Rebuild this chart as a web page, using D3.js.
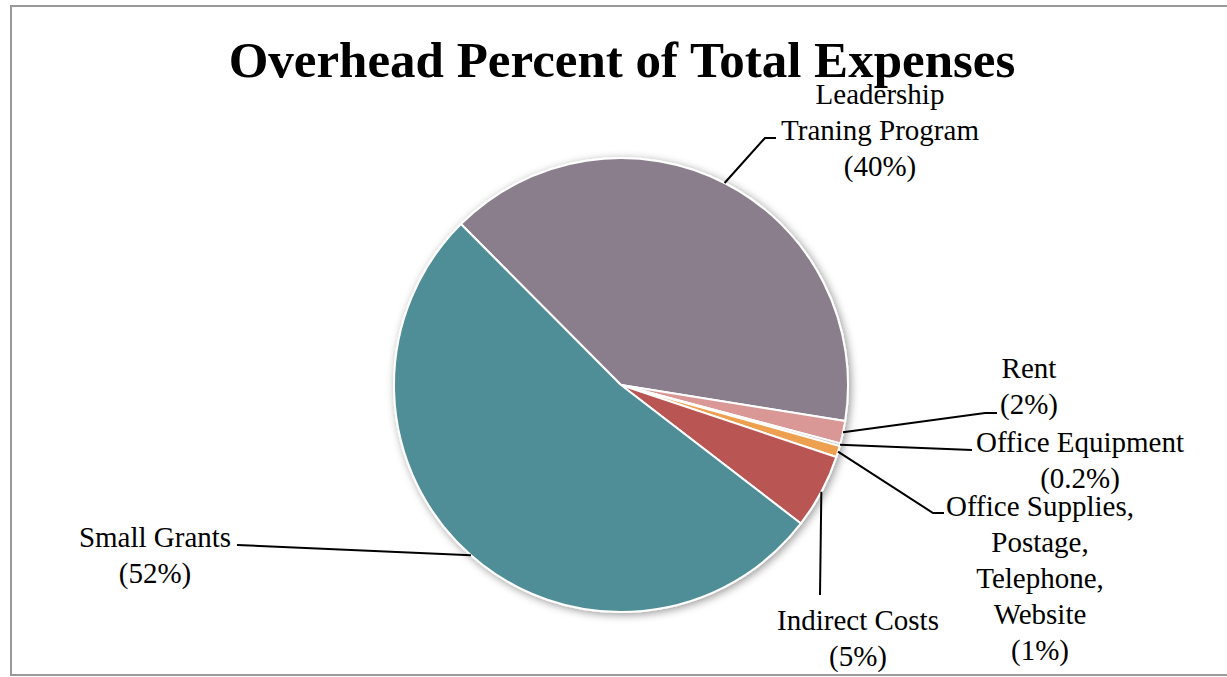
<!DOCTYPE html>
<html>
<head>
<meta charset="utf-8">
<script src="https://cdn.jsdelivr.net/npm/d3@7"></script>
<style>
  body { margin: 0; background: #fff; }
  text { font-family: "Liberation Serif", "DejaVu Serif", serif; fill: #000; }
</style>
</head>
<body>
<div id="chart"></div>
<script>
// data (clockwise from the Leadership slice)
const categories = ["Leadership Traning Program", "Rent", "Office Equipment",
  "Office Supplies, Postage, Telephone, Website", "Indirect Costs", "Small Grants"];
const values = [40.0, 1.6, 0.2, 0.8, 5.3, 52.1];
const pctLabels = ["(40%)", "(2%)", "(0.2%)", "(1%)", "(5%)", "(52%)"];
const labelLines = [
  ["Leadership", "Traning Program"],
  ["Rent"],
  ["Office Equipment"],
  ["Office Supplies,", "Postage,", "Telephone,", "Website"],
  ["Indirect Costs"],
  ["Small Grants"]
];
const colors = ["#8b7e8c", "#d99795", "#c9c0c9", "#eda04f", "#b95653", "#4f8e97"];

const createPie = () => {
  const w = 1227, h = 677;
  const cx = 621, cy = 385, r = 227;
  const svg = d3.select("#chart").append("svg").attr("width", w).attr("height", h);

  // frame
  svg.append("rect").attr("x", 11).attr("y", 6).attr("width", 1240).attr("height", 669)
    .attr("fill", "#fff").attr("stroke", "#999").attr("stroke-width", 2);

  const defs = svg.append("defs");
  defs.append("filter").attr("id", "shadow").attr("x", "-20%").attr("y", "-20%")
    .attr("width", "140%").attr("height", "140%")
    .append("feDropShadow").attr("dx", 2).attr("dy", 2).attr("stdDeviation", 4)
    .attr("flood-color", "#000").attr("flood-opacity", 0.4);

  svg.append("text").attr("x", 622).attr("y", 77).attr("text-anchor", "middle")
    .style("font-size", "51px").style("font-weight", "bold")
    .text("Overhead Percent of Total Expenses");

  const start = 315.15 * Math.PI / 180;
  const pie = d3.pie().sort(null).startAngle(start).endAngle(start + 2 * Math.PI);
  const arcs = pie(values);
  const arc = d3.arc().innerRadius(0).outerRadius(r);

  const g = svg.append("g").attr("transform", `translate(${cx},${cy})`);
  g.append("g").attr("filter", "url(#shadow)")
    .selectAll("path").data(arcs).join("path")
    .attr("d", arc)
    .attr("fill", (d, i) => colors[i])
    .attr("stroke", "#fff").attr("stroke-width", 2).attr("stroke-linejoin", "round");

  // label layout: text centre x, first baseline y, leader elbow and end
  const layout = [
    { x: 880, y: 104, pts: [[765, 138], [776, 138]] },
    { x: 1029, y: 378, pts: [[985, 413], [997, 413]] },
    { x: 1080, y: 452, pts: [[972, 450]] },
    { x: 1040, y: 516, pts: [[933, 513], [944, 513]] },
    { x: 858, y: 630, pts: [[820, 595]] },
    { x: 155, y: 547, pts: [[237, 545]] }
  ];
  const lh = 36;

  arcs.forEach((d, i) => {
    const a = (d.startAngle + d.endAngle) / 2;
    const p0 = [cx + r * Math.sin(a), cy - r * Math.cos(a)];
    const L = layout[i];
    svg.append("path")
      .attr("d", d3.line()([p0, ...L.pts]))
      .attr("fill", "none").attr("stroke", "#000").attr("stroke-width", 2);
    const lines = [...labelLines[i], pctLabels[i]];
    const t = svg.append("text").attr("text-anchor", "middle").style("font-size", "29px");
    lines.forEach((s, j) => {
      t.append("tspan").attr("x", L.x).attr("y", L.y + j * lh).text(s);
    });
  });
};
createPie();
</script>
</body>
</html>
